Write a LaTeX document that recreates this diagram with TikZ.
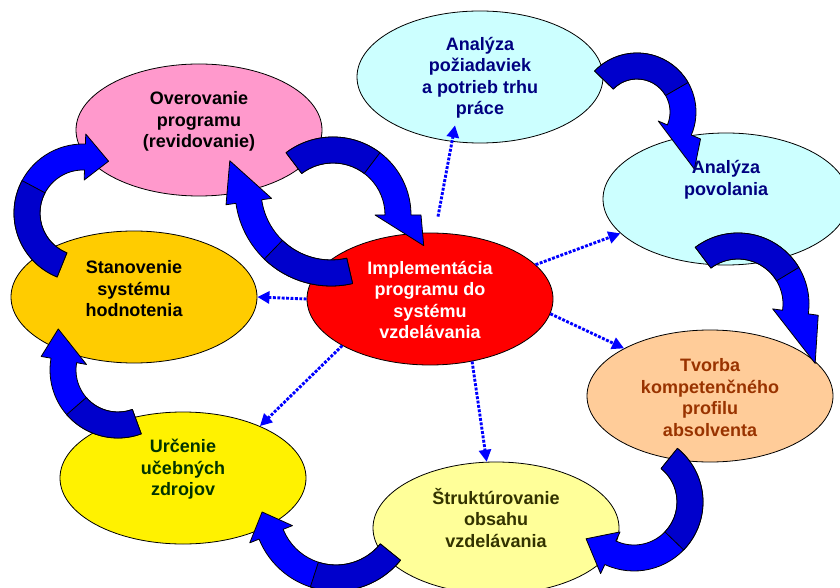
\documentclass[tikz,border=0pt]{standalone}
\usepackage{fontspec}
\setmainfont{Liberation Sans}
\usetikzlibrary{shapes.geometric, arrows.meta, calc}
\definecolor{aqua}{HTML}{CCFFFF}
\definecolor{peach}{HTML}{FFCC99}
\definecolor{lemon}{HTML}{FFFF99}
\definecolor{gold}{HTML}{FFCC00}
\definecolor{rose}{HTML}{FF99CC}
\definecolor{navy}{HTML}{000080}
\definecolor{rust}{HTML}{993300}
\definecolor{olive}{HTML}{333300}
\definecolor{forest}{HTML}{003300}
\definecolor{bandblue}{HTML}{0000FF}
\definecolor{banddeep}{HTML}{0000CC}
\tikzset{
	bubble/.style={ellipse, draw, line width=0.8pt, minimum width=246pt, minimum height=132pt, inner sep=0pt},
	lbl/.style={font=\bfseries\fontsize{18}{21.5}\selectfont, align=center, inner sep=0pt},
	dots/.style={bandblue, line width=2.9pt, dash pattern=on 2.9pt off 1.5pt, -{Triangle[length=12pt,width=12pt]}},
	bandlight/.style={draw=black, fill=bandblue, line width=0.8pt, line join=round},
	banddark/.style={draw=black, fill=banddeep, line width=0.8pt, line join=round}
}
\newcommand{\bandw}{13}
\newcommand{\barbw}{10}
% centre, radius, start, split, end, tip direction, tip length
\newcommand{\bendarrow}[7]{%
	\pgfmathsetmacro{\bandout}{#2+\bandw}%
	\pgfmathsetmacro{\bandin}{#2-\bandw}%
	\pgfmathsetmacro{\barbout}{#2+\bandw+\barbw}%
	\pgfmathsetmacro{\barbin}{#2-\bandw-\barbw}%
	\draw[bandlight] ($(#1)+(#3:\bandout)$) arc[start angle=#3, end angle=#5, radius=\bandout]
		-- ($(#1)+(#5:\barbout)$) -- ($(#1)+(#5:#2)+(#6:#7)$) -- ($(#1)+(#5:\barbin)$)
		-- ($(#1)+(#5:\bandin)$) arc[start angle=#5, end angle=#3, radius=\bandin] -- cycle;
	\draw[banddark] ($(#1)+(#3:\bandout)$) arc[start angle=#3, end angle=#4, radius=\bandout]
		-- ($(#1)+(#4:\bandin)$) arc[start angle=#4, end angle=#3, radius=\bandin] -- cycle;
}

\begin{document}
\begin{tikzpicture}[x=1pt, y=1pt]
	\useasboundingbox (0,0) rectangle (840,587);
	
	\node[bubble, fill=aqua] (anal) at (480,510) {};
	\node[bubble, fill=aqua] (povol) at (726,388) {};
	\node[bubble, fill=peach] (tvorba) at (710,191) {};
	\node[bubble, fill=lemon] (strukt) at (496,59) {};
	\node[bubble, fill=yellow] (urcenie) at (183,109) {};
	\node[bubble, fill=gold] (stanov) at (134,290) {};
	\node[bubble, fill=rose] (over) at (199,457) {};
	\node[bubble, fill=red] (impl) at (430,288) {};
	
	\coordinate (impl-up) at ($(impl.north)+(8,16)$);
	\coordinate (anal-in) at ($(anal.south)+(-25,18)$);
	\draw[dots] (impl-up) -- (anal-in);
	\draw[dots] (impl.18) -- (povol.198);
	\draw[dots] (impl.-7) -- (tvorba.151);
	\draw[dots] (impl.-56) -- (strukt.98);
	\draw[dots] (impl.208) -- (urcenie.34);
	\draw[dots] (impl.west) -- (stanov.east);
	
	\bendarrow{637,475}{46}{136}{30}{-23}{-69}{42}
	\bendarrow{738,283}{58}{127}{31}{-8}{-69}{55}
	\bendarrow{634,85}{56}{51}{-44}{-115}{150}{28}
	\bendarrow{336,79}{70}{-39}{-108}{-158}{112}{24}
	\bendarrow{118,217}{55}{-70}{-139}{-190}{100}{32}
	\bendarrow{83,374}{56}{-112}{-208}{-272}{-10}{24}
	\bendarrow{333,372}{65}{127}{53}{0}{-50}{40}
	\bendarrow{331,397}{83}{-77}{-134}{-172}{115}{45}
	
	\node[lbl, navy] (anal-t) at (480,509) {Analýza\\požiadaviek\\a potrieb trhu\\práce};
	\node[lbl, navy] (povol-t) at (726,407) {Analýza\\povolania};
	\node[lbl, rust] (tvorba-t) at (710,189.5) {Tvorba\\kompetenčného\\profilu\\absolventa};
	\node[lbl, olive] (strukt-t) at (496,69) {Štruktúrovanie\\obsahu\\vzdelávania};
	\node[lbl, forest] (urcenie-t) at (183,117.5) {Určenie\\učebných\\zdrojov};
	\node[lbl] (stanov-t) at (134,298) {Stanovenie\\systému\\hodnotenia};
	\node[lbl] (over-t) at (199,465.5) {Overovanie\\programu\\(revidovanie)};
	\node[lbl, white] (impl-t) at (430,287) {Implementácia\\programu do\\systému\\vzdelávania};
\end{tikzpicture}
\end{document}
